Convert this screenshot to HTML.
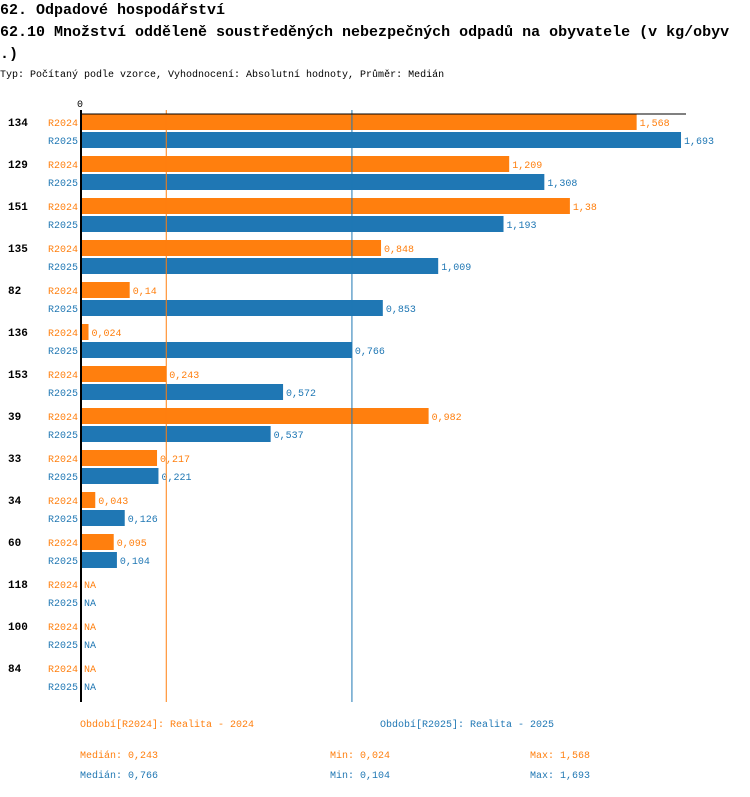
<!DOCTYPE html>
<html><head><meta charset="utf-8"><style>
body{margin:0;background:#fff;width:750px;height:792px;overflow:hidden}
svg text{font-family:"Liberation Mono",monospace}
</style></head><body>
<svg id="c" width="750" height="792">
<text x="0" y="14" font-size="15" font-weight="bold">62. Odpadové hospodářství</text>
<text x="0" y="36" font-size="15" font-weight="bold">62.10 Množství odděleně soustředěných nebezpečných odpadů na obyvatele (v kg/obyv</text>
<text x="0" y="58" font-size="15" font-weight="bold">.)</text>
<text x="0" y="77" font-size="10">Typ: Počítaný podle vzorce, Vyhodnocení: Absolutní hodnoty, Průměr: Medián</text>
<text x="77" y="107" font-size="10">0</text>
<g id="bars"></g>
<line x1="80" y1="114" x2="686" y2="114" stroke="#000"/>
<line x1="81" y1="110" x2="81" y2="702" stroke="#000" stroke-width="2"/>
<text x="80" y="727" font-size="10" fill="#ff7f0e">Období[R2024]: Realita - 2024</text>
<text x="380" y="727" font-size="10" fill="#1f77b4">Období[R2025]: Realita - 2025</text>
<text x="80" y="758" font-size="10" fill="#ff7f0e">Medián: 0,243</text>
<text x="330" y="758" font-size="10" fill="#ff7f0e">Min: 0,024</text>
<text x="530" y="758" font-size="10" fill="#ff7f0e">Max: 1,568</text>
<text x="80" y="778" font-size="10" fill="#1f77b4">Medián: 0,766</text>
<text x="330" y="778" font-size="10" fill="#1f77b4">Min: 0,104</text>
<text x="530" y="778" font-size="10" fill="#1f77b4">Max: 1,693</text>
</svg>
<script>
const categories=["134","129","151","135","82","136","153","39","33","34","60","118","100","84"];
const r2024=[1.568,1.209,1.38,0.848,0.14,0.024,0.243,0.982,0.217,0.043,0.095,null,null,null];
const r2025=[1.693,1.308,1.193,1.009,0.853,0.766,0.572,0.537,0.221,0.126,0.104,null,null,null];
const medians=[0.243,0.766];
const NS="http://www.w3.org/2000/svg";
const g=document.getElementById('bars');
const X0=80,S=355;
const xs=v=>X0+v*S;
const fmt=v=>String(v).replace('.',',');
function mk(t,a,p){const e=document.createElementNS(NS,t);for(const k in a)e.setAttribute(k,a[k]);(p||g).appendChild(e);return e;}
const cols=["#ff7f0e","#1f77b4"];
categories.forEach((c,i)=>{
  const y=114+42*i;
  const t=mk('text',{x:8,y:y+12,'font-size':11,'font-weight':'bold'});t.textContent=c;
  
  
  [r2024,r2025].forEach((arr,s)=>{
    const yy=y+s*18,v=arr[i],col=cols[s];
    const l=mk('text',{x:48,y:yy+12,'font-size':10,fill:col});l.textContent=s?'R2025':'R2024';
    
    
    if(v==null){const n=mk('text',{x:84,y:yy+12,'font-size':10,fill:col});n.textContent='NA';
      
      return;}
    const r=mk('rect',{x:82,y:yy,width:Math.max(0,xs(v)-82),height:16,fill:col});
    
    
    const vt=mk('text',{x:xs(v)+3,y:yy+12,'font-size':10,fill:col});vt.textContent=fmt(v);
    
    
  });
});
medians.forEach((m,s)=>{
  const l=mk('line',{x1:xs(m),x2:xs(m),y1:110,y2:702,stroke:cols[s],'stroke-width':1});
  
  
});
</script>
</body></html>
